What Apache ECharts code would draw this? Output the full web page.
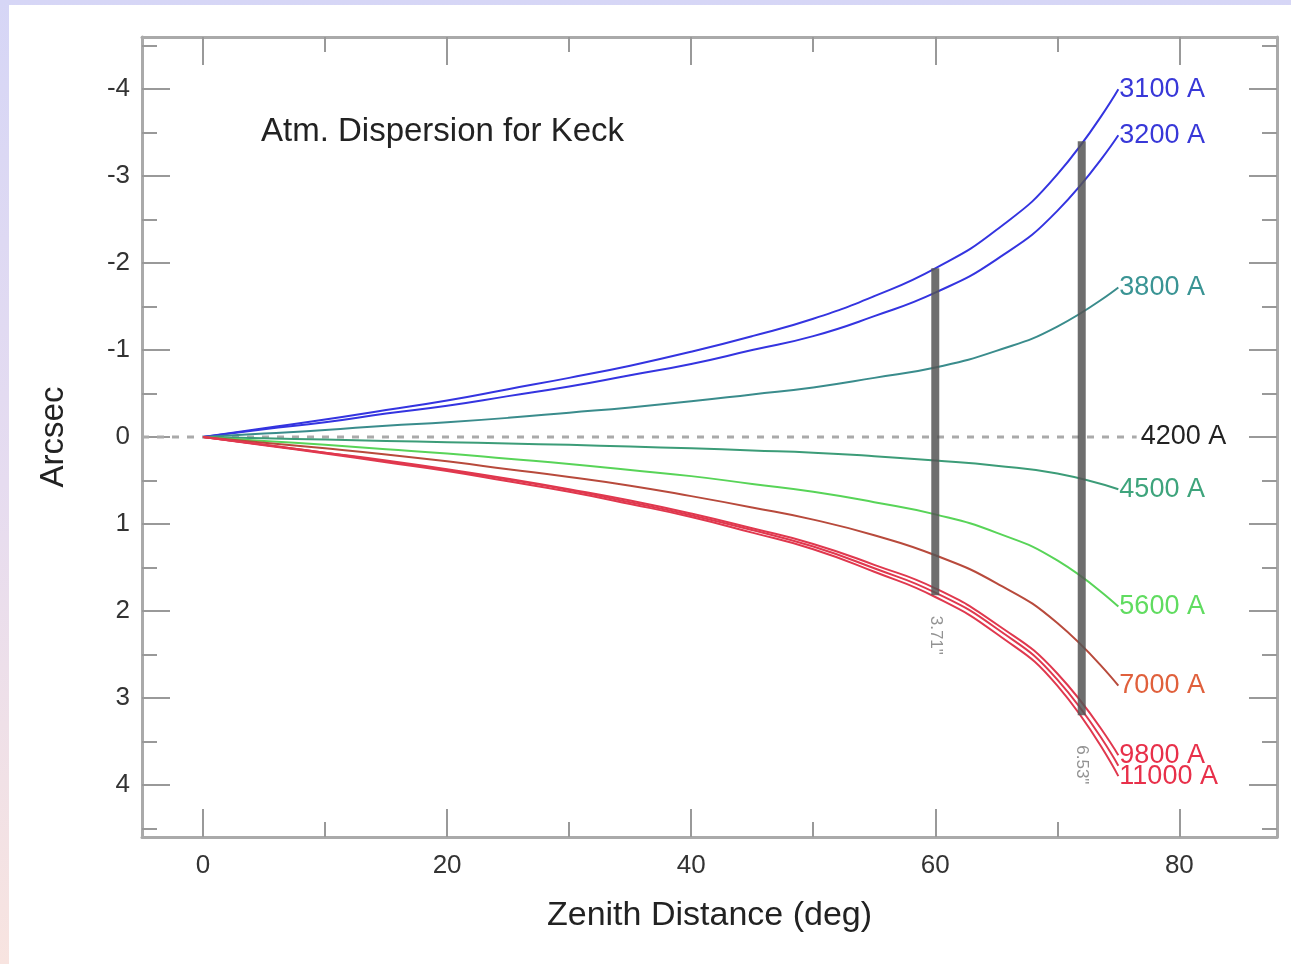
<!DOCTYPE html>
<html lang="en">
<head>
    <meta charset="UTF-8">
    <title>Atm. Dispersion for Keck</title>
    <script src="https://cdn.jsdelivr.net/npm/echarts@6.0.0/dist/echarts.min.js"></script>
    <style>
        html, body {margin: 0; padding: 0;}
        body {
            width: 1291px; height: 964px; overflow: hidden;
            background: linear-gradient(180deg, #d6d6f6 0%, #e6dcf0 50%, #f8e4e0 100%);
        }
        #chart {position: absolute; left: 9px; top: 5px; width: 1282px; height: 959px; background: #fff;}
    </style>
</head>
<body>
<div id="chart"></div>

<script>
    var zenith = [0, 5, 10, 15, 20, 25, 30, 35, 40, 45, 50, 55, 60, 65, 70, 75];

    // dispersion relative to 4200 A, arcsec (negative = up)
    var d3100 = [0, -0.10, -0.20, -0.31, -0.42, -0.55, -0.68, -0.82, -0.98, -1.16, -1.36, -1.62, -1.94, -2.38, -3.02, -4.00];
    var d3200 = [0, -0.09, -0.17, -0.27, -0.36, -0.47, -0.58, -0.71, -0.84, -1.00, -1.16, -1.39, -1.66, -2.04, -2.60, -3.47];
    var d3800 = [0, -0.04, -0.08, -0.13, -0.17, -0.22, -0.28, -0.34, -0.41, -0.49, -0.57, -0.68, -0.80, -0.99, -1.27, -1.72];
    var d4500 = [0, 0.015, 0.03, 0.045, 0.06, 0.075, 0.09, 0.11, 0.13, 0.155, 0.18, 0.22, 0.27, 0.33, 0.42, 0.60];
    var d5600 = [0, 0.045, 0.09, 0.14, 0.19, 0.25, 0.31, 0.38, 0.45, 0.54, 0.63, 0.75, 0.89, 1.10, 1.42, 1.95];
    var d7000 = [0, 0.065, 0.13, 0.20, 0.28, 0.37, 0.46, 0.56, 0.68, 0.81, 0.95, 1.13, 1.36, 1.68, 2.14, 2.86];
    var d9800 = [0, 0.09, 0.18, 0.27, 0.37, 0.48, 0.60, 0.73, 0.88, 1.05, 1.23, 1.47, 1.74, 2.15, 2.72, 3.66];
    var dMid = [0, 0.09, 0.18, 0.28, 0.38, 0.49, 0.61, 0.75, 0.90, 1.07, 1.26, 1.51, 1.79, 2.20, 2.79, 3.78];
    var d11000 = [0, 0.095, 0.19, 0.29, 0.39, 0.51, 0.63, 0.77, 0.92, 1.10, 1.29, 1.55, 1.84, 2.26, 2.86, 3.90];

    // reference line and the two spread bars
    var refLine = [[-5, 0], [76.5, 0]];
    var bar60 = [[60, -1.94], [60, 1.82]];
    var bar72 = [[72, -3.40], [72, 3.20]];
    var barLabels = [[60, 2.28, '3.71"'], [72, 3.77, '6.53"']];

    // ticks
    var xMajor = [0, 20, 40, 60, 80];
    var xMinor = [10, 30, 50, 70];
    var yMajor = [-4, -3, -2, -1, 0, 1, 2, 3, 4];
    var yMinor = [-4.5, -3.5, -2.5, -1.5, -0.5, 0.5, 1.5, 2.5, 3.5, 4.5];

    var chart = echarts.init(document.getElementById('chart'));

    function zip(ys) {
        return zenith.map(function (z, i) { return [z, ys[i]]; });
    }

    function xAxis(pos, ticks, len, labels, line) {
        return {
            type: 'value', min: -5, max: 88, position: pos,
            axisLine: {show: line, onZero: false, lineStyle: {color: '#aaa', width: 3}},
            axisTick: {show: true, inside: true, length: len, customValues: ticks,
                lineStyle: {color: '#999', width: 2}},
            axisLabel: {show: labels, customValues: ticks, fontSize: 26, color: '#333',
                fontFamily: 'Liberation Sans', margin: 16},
            splitLine: {show: false}
        };
    }

    function yAxis(pos, ticks, len, labels, line) {
        return {
            type: 'value', min: -4.6, max: 4.6, inverse: true, position: pos,
            axisLine: {show: line, onZero: false, lineStyle: {color: '#aaa', width: 3}},
            axisTick: {show: true, inside: true, length: len, customValues: ticks,
                lineStyle: {color: '#999', width: 2}},
            axisLabel: {show: labels, customValues: ticks, fontSize: 26, color: '#333',
                fontFamily: 'Liberation Sans', margin: 12},
            splitLine: {show: false}
        };
    }

    function curve(name, ys, color, labelColor, label) {
        return {
            name: name, type: 'line', data: zip(ys), smooth: 0.5,
            showSymbol: false,
            lineStyle: {color: color, width: 2},
            endLabel: {show: !!label, formatter: label || '', color: labelColor, fontSize: 27,
                fontFamily: 'Liberation Sans', distance: 1},
            z: 3
        };
    }

    var xs = [
        xAxis('bottom', xMajor, 28, true, true),
        xAxis('bottom', xMinor, 15, false, false),
        xAxis('top', xMajor, 28, false, true),
        xAxis('top', xMinor, 15, false, false)
    ];
    xs[0].name = 'Zenith Distance (deg)';
    xs[0].nameLocation = 'middle';
    xs[0].nameGap = 62;
    xs[0].nameTextStyle = {fontSize: 34, color: '#222', fontFamily: 'Liberation Sans'};

    var ys = [
        yAxis('left', yMajor, 28, true, true),
        yAxis('left', yMinor, 15, false, false),
        yAxis('right', yMajor, 28, false, true),
        yAxis('right', yMinor, 15, false, false)
    ];
    ys[0].name = 'Arcsec';
    ys[0].nameLocation = 'middle';
    ys[0].nameGap = 72;
    ys[0].nameTextStyle = {fontSize: 33, color: '#222', fontFamily: 'Liberation Sans'};

    var option = {
        animation: false,
        title: {
            text: 'Atm. Dispersion for Keck', left: 247, top: 105,
            textStyle: {fontSize: 33, fontWeight: 'normal', color: '#222', fontFamily: 'Liberation Sans'}
        },
        grid: {left: 133, top: 32, right: 14, bottom: 127},
        xAxis: xs,
        yAxis: ys,
        series: [
            {
                name: '4200', type: 'line', data: refLine, showSymbol: false,
                lineStyle: {color: '#aaa', width: 3, type: [7, 8]},
                endLabel: {show: true, formatter: '4200 A', color: '#222', fontSize: 27,
                    fontFamily: 'Liberation Sans', distance: 4},
                z: 2
            },
            curve('3100', d3100, '#3434e0', '#3838d8', '3100 A'),
            curve('3200', d3200, '#3434e0', '#3838d8', '3200 A'),
            curve('3800', d3800, '#3a8c8c', '#3a9494', '3800 A'),
            curve('4500', d4500, '#3c9c78', '#3ea47c', '4500 A'),
            curve('5600', d5600, '#58d458', '#60dc60', '5600 A'),
            curve('7000', d7000, '#b84a3c', '#e0603c', '7000 A'),
            curve('9800', d9800, '#e0384e', '#e8304a', '9800 A'),
            curve('mid', dMid, '#e0384e', '#e8304a', null),
            curve('11000', d11000, '#e0384e', '#e8304a', '11000 A'),
            {
                name: 'bar60', type: 'line', data: bar60, showSymbol: false,
                lineStyle: {color: '#555', width: 8, opacity: 0.85}, z: 4
            },
            {
                name: 'bar72', type: 'line', data: bar72, showSymbol: false,
                lineStyle: {color: '#555', width: 8, opacity: 0.85}, z: 4
            },
            {
                name: 'spread', type: 'scatter', data: barLabels, symbolSize: 0,
                label: {
                    show: true, position: 'inside', rotate: -90, fontSize: 17, color: '#777',
                    fontFamily: 'Liberation Sans',
                    formatter: function (p) { return p.value[2]; }
                },
                z: 5
            }
        ]
    };

    chart.setOption(option);
</script>
</body>
</html>
